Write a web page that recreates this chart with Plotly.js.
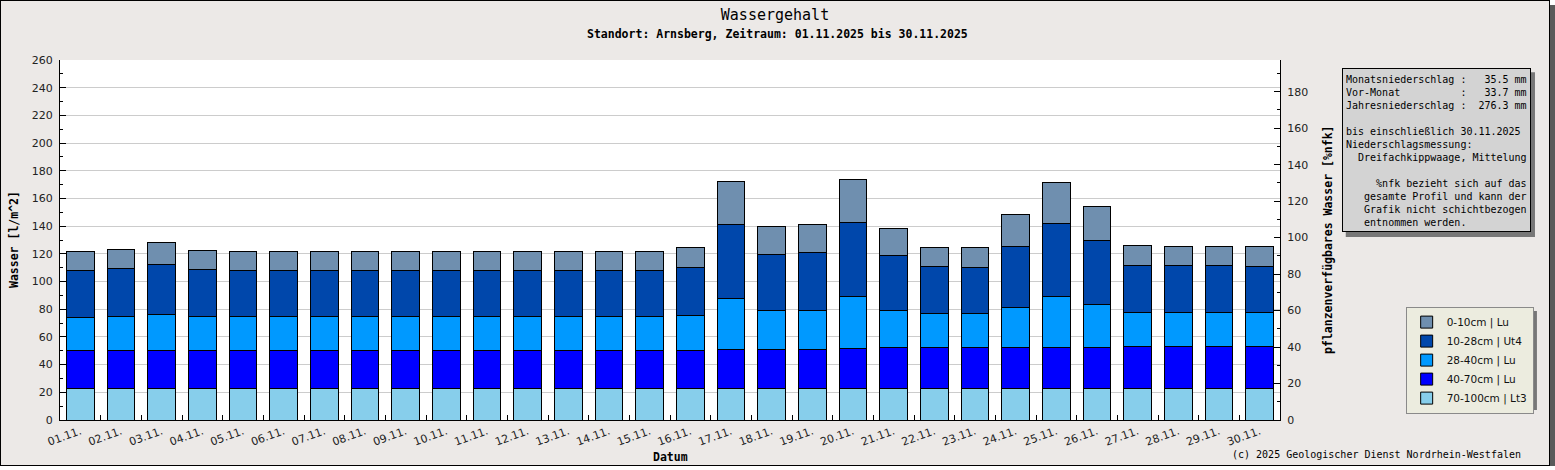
<!DOCTYPE html>
<html>
<head>
<meta charset="utf-8">
<script src="https://cdn.plot.ly/plotly-3.0.1.min.js"></script>
<style>
	body { margin: 0; background: #ffffff; }
	#crtWasser {
		width: 1548px;
		height: 464px;
		border: 1px solid #000000;
		box-shadow: 5px 5px 0 #5a5a5a;
	}
</style>
</head>
<body>
<div id="crtWasser"></div>
<script>
// Day labels for the x axis
var dayName = ["01.11.", "02.11.", "03.11.", "04.11.", "05.11.", "06.11.", "07.11.", "08.11.", "09.11.", "10.11.",
	"11.11.", "12.11.", "13.11.", "14.11.", "15.11.", "16.11.", "17.11.", "18.11.", "19.11.", "20.11.",
	"21.11.", "22.11.", "23.11.", "24.11.", "25.11.", "26.11.", "27.11.", "28.11.", "29.11.", "30.11."];

// Water per layer [l/m^2], bottom layer first
var layer70to100 = [22.6, 22.6, 22.6, 22.6, 22.6, 22.6, 22.6, 22.6, 22.6, 22.6,
	22.6, 22.6, 22.6, 22.6, 22.6, 22.6, 22.6, 22.6, 22.6, 22.6,
	22.6, 22.6, 22.6, 22.6, 22.6, 22.6, 22.6, 22.6, 22.6, 22.6];
var layer40to70 = [27.7, 27.7, 27.7, 27.7, 27.7, 27.7, 27.7, 27.7, 27.7, 27.7,
	27.7, 27.7, 27.7, 27.7, 27.7, 27.7, 28.5, 28.5, 28.5, 29.2,
	29.9, 29.9, 29.9, 29.9, 29.9, 29.9, 30.6, 30.6, 30.6, 30.6];
var layer28to40 = [23.6, 24.3, 25.8, 24.3, 24.3, 24.3, 24.3, 24.3, 24.3, 24.3,
	24.3, 24.3, 24.3, 24.3, 24.3, 25.3, 36.8, 28.1, 28.1, 37.5,
	26.7, 24.6, 24.6, 28.9, 36.8, 31.1, 24.6, 24.6, 24.6, 24.6];
var layer10to28 = [33.9, 35.0, 36.3, 34.2, 33.2, 33.2, 33.2, 33.2, 33.2, 33.2,
	33.2, 33.2, 33.2, 33.2, 33.2, 34.7, 53.4, 40.5, 41.9, 53.5,
	39.7, 33.9, 33.2, 44.0, 52.8, 46.2, 33.9, 33.9, 33.9, 33.2];
var layer0to10 = [14.0, 13.7, 15.9, 13.7, 14.0, 14.0, 14.0, 14.0, 14.0, 14.0,
	14.0, 14.0, 14.0, 14.0, 14.0, 14.4, 31.1, 20.2, 20.2, 31.0,
	19.5, 13.7, 14.4, 23.2, 29.6, 24.5, 14.5, 13.7, 13.7, 14.4];

var layerNames = ["70-100cm | Lt3", "40-70cm | Lu", "28-40cm | Lu", "10-28cm | Ut4", "0-10cm | Lu"];
var layerColors = ["#87ceeb", "#0000ff", "#0099ff", "#0047ab", "#6f8faf"];

// Text of the info box
var infoLines = [
	"Monatsniederschlag :   35.5 mm",
	"Vor-Monat          :   33.7 mm",
	"Jahresniederschlag :  276.3 mm",
	"",
	"bis einschließlich 30.11.2025",
	"Niederschlagsmessung:",
	"  Dreifachkippwaage, Mittelung",
	"",
	"     %nfk bezieht sich auf das",
	"   gesamte Profil und kann der",
	"   Grafik nicht schichtbezogen",
	"   entnommen werden."
];

var mono = "DejaVu Sans Mono, monospace";
var sans = "DejaVu Sans, sans-serif";

/**
 * Build one stacked bar trace per soil layer
 */
var makeBars = function() {
	var layers = [layer70to100, layer40to70, layer28to40, layer10to28, layer0to10];
	var data = [];
	for (var i = 0; i < layers.length; i++) {
		data.push({
			x: dayName,
			y: layers[i],
			name: layerNames[i],
			type: 'bar',
			marker: {
				color: layerColors[i],
				line: { color: '#000000', width: 1 }
			},
			hoverinfo: 'x+y+name'
		});
	}
	return data;
}

var infoText = function() {
	var out = [];
	for (var i = 0; i < infoLines.length; i++) {
		var ln = infoLines[i] === "" ? " " : infoLines[i];
		out.push(ln.replace(/ /g, "\u00a0"));
	}
	return out.join("<br>");
}

var layout = {
	width: 1548,
	height: 464,
	paper_bgcolor: '#ece9e7',
	plot_bgcolor: '#ffffff',
	barmode: 'stack',
	bargap: 0.32,
	showlegend: true,
	margin: { l: 59, r: 269, t: 59, b: 45, pad: 0 },
	title: {
		text: 'Wassergehalt',
		font: { family: mono, size: 15, color: '#000000' },
		xref: 'container',
		x: 0.5,
		xanchor: 'center',
		yref: 'container',
		y: 0.97,
		yanchor: 'middle'
	},
	xaxis: {
		type: 'category',
		range: [-0.5, 29.5],
		tickson: 'boundaries',
		ticks: 'inside',
		ticklen: 5,
		tickcolor: '#000000',
		tickangle: -20,
		tickfont: { family: sans, size: 11, color: '#222222' },
		showline: true,
		linecolor: '#000000',
		linewidth: 1,
		showgrid: false,
		fixedrange: true
	},
	yaxis: {
		range: [0, 260],
		dtick: 20,
		ticks: 'inside',
		ticklen: 6,
		tickcolor: '#000000',
		ticklabelstandoff: 4,
		tickfont: { family: sans, size: 11, color: '#222222' },
		showline: true,
		linecolor: '#000000',
		showgrid: true,
		gridcolor: '#cccccc',
		zeroline: false,
		minor: { dtick: 10, ticks: 'inside', ticklen: 3, tickcolor: '#000000', showgrid: false },
		fixedrange: true
	},
	yaxis2: {
		overlaying: 'y',
		side: 'right',
		range: [0, 197.4],
		dtick: 20,
		ticks: 'inside',
		ticklen: 6,
		tickcolor: '#000000',
		ticklabelstandoff: 4,
		tickfont: { family: sans, size: 11, color: '#222222' },
		showline: true,
		linecolor: '#000000',
		showgrid: false,
		zeroline: false,
		minor: { dtick: 10, ticks: 'inside', ticklen: 3, tickcolor: '#000000', showgrid: false },
		fixedrange: true
	},
	legend: {
		x: 1.103,
		xanchor: 'left',
		y: 0.315,
		yanchor: 'top',
		bgcolor: '#ececdf',
		bordercolor: '#8a8a8a',
		borderwidth: 1,
		font: { family: sans, size: 10.5, color: '#111111' }
	},
	shapes: [{
		// legend shadow
		type: 'rect',
		xref: 'paper', yref: 'paper',
		x0: 1.1066, x1: 1.2106, y0: 0.0278, y1: 0.3028,
		fillcolor: '#777777',
		line: { width: 0 },
		layer: 'below'
	}, {
		// info box shadow
		type: 'rect',
		xref: 'paper', yref: 'paper',
		x0: 1.0539, x1: 1.209, y0: 0.508, y1: 0.9658,
		fillcolor: '#777777',
		line: { width: 0 },
		layer: 'below'
	}],
	annotations: [{
		text: '<b>Standort: Arnsberg, Zeitraum: 01.11.2025 bis 30.11.2025</b>',
		xref: 'paper', yref: 'paper',
		x: 0.588, y: 1.0736,
		xanchor: 'center', yanchor: 'middle',
		showarrow: false,
		font: { family: mono, size: 11.5, color: '#000000' }
	}, {
		text: '<b>Wasser [l/m^2]</b>',
		xref: 'paper', yref: 'paper',
		x: -0.0377, y: 0.5,
		xanchor: 'center', yanchor: 'middle',
		textangle: -90,
		showarrow: false,
		font: { family: mono, size: 11.5, color: '#000000' }
	}, {
		text: '<b>pflanzenverfügbares Wasser [%nfk]</b>',
		xref: 'paper', yref: 'paper',
		x: 1.0393, y: 0.5,
		xanchor: 'center', yanchor: 'middle',
		textangle: -90,
		showarrow: false,
		font: { family: mono, size: 11.5, color: '#000000' }
	}, {
		text: '<b>Datum</b>',
		xref: 'paper', yref: 'paper',
		x: 0.5, y: -0.102,
		xanchor: 'center', yanchor: 'middle',
		showarrow: false,
		font: { family: mono, size: 11.5, color: '#000000' }
	}, {
		text: '(c) 2025 Geologischer Dienst Nordrhein-Westfalen',
		xref: 'paper', yref: 'paper',
		x: 1.1992, y: -0.0972,
		xanchor: 'right', yanchor: 'middle',
		showarrow: false,
		font: { family: mono, size: 10, color: '#000000' }
	}, {
		text: infoText(),
		align: 'left',
		valign: 'bottom',
		width: 181,
		height: 156,
		xref: 'paper', yref: 'paper',
		x: 1.0506, y: 0.977,
		xanchor: 'left', yanchor: 'top',
		showarrow: false,
		bgcolor: '#d3d3d3',
		bordercolor: '#000000',
		borderwidth: 1,
		borderpad: 3,
		font: { family: mono, size: 10, color: '#000000' }
	}]
};

var data = makeBars();
// empty trace so the right axis is drawn
data.push({ x: [dayName[0]], y: [null], yaxis: 'y2', type: 'scatter', mode: 'markers', showlegend: false, hoverinfo: 'skip' });

Plotly.newPlot('crtWasser', data, layout, { displayModeBar: false, staticPlot: true });
</script>
</body>
</html>
